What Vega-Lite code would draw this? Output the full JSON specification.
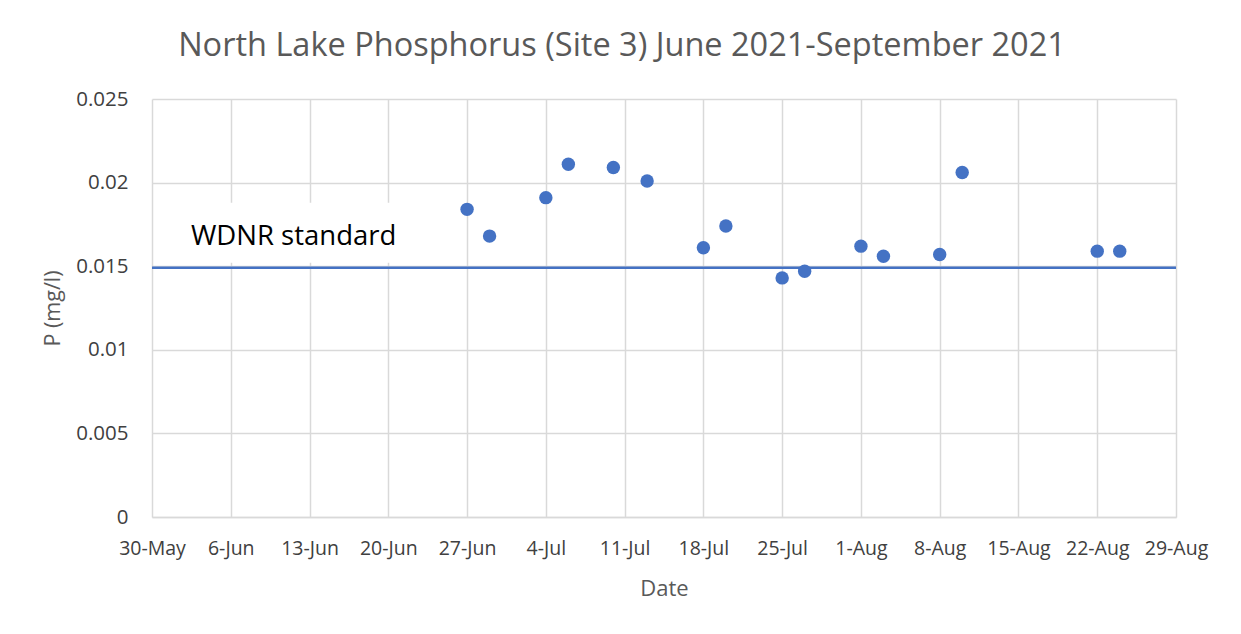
{
  "$schema": "https://vega.github.io/schema/vega-lite/v6.json",
  "autosize": "none",
  "width": 1024,
  "height": 418,
  "padding": {"left": 152, "top": 99, "right": 65, "bottom": 117},
  "background": "white",
  "title": {
    "text": "North Lake Phosphorus (Site 3) June 2021-September 2021",
    "font": "Open Sans",
    "fontSize": 32.5,
    "fontWeight": "normal",
    "color": "#595959",
    "anchor": "middle",
    "dx": -42,
    "offset": 27
  },
  "config": {
    "view": {"stroke": null},
    "font": "Open Sans"
  },
  "data": {
    "values": [
      {"date": "2021-06-27", "p": 0.0184},
      {"date": "2021-06-29", "p": 0.0168},
      {"date": "2021-07-04", "p": 0.0191},
      {"date": "2021-07-06", "p": 0.0211},
      {"date": "2021-07-10", "p": 0.0209},
      {"date": "2021-07-13", "p": 0.0201},
      {"date": "2021-07-18", "p": 0.0161},
      {"date": "2021-07-20", "p": 0.0174},
      {"date": "2021-07-25", "p": 0.0143},
      {"date": "2021-07-27", "p": 0.0147},
      {"date": "2021-08-01", "p": 0.0162},
      {"date": "2021-08-03", "p": 0.0156},
      {"date": "2021-08-08", "p": 0.0157},
      {"date": "2021-08-10", "p": 0.0206},
      {"date": "2021-08-22", "p": 0.0159},
      {"date": "2021-08-24", "p": 0.0159}
    ]
  },
  "layer": [
    {
      "mark": {"type": "point", "filled": true, "size": 180, "opacity": 0},
      "encoding": {
        "x": {
          "field": "date",
          "type": "temporal",
          "scale": {
            "type": "utc",
            "domain": [
              {"year": 2021, "month": 5, "date": 30, "utc": true},
              {"year": 2021, "month": 8, "date": 29, "utc": true}
            ],
            "nice": false
          },
          "axis": {
            "title": "Date",
            "titleFont": "Open Sans",
            "titleFontSize": 22,
            "titleFontWeight": "normal",
            "titleColor": "#595959",
            "titlePadding": 21,
            "values": [
              {"year": 2021, "month": 5, "date": 30, "utc": true},
              {"year": 2021, "month": 6, "date": 6, "utc": true},
              {"year": 2021, "month": 6, "date": 13, "utc": true},
              {"year": 2021, "month": 6, "date": 20, "utc": true},
              {"year": 2021, "month": 6, "date": 27, "utc": true},
              {"year": 2021, "month": 7, "date": 4, "utc": true},
              {"year": 2021, "month": 7, "date": 11, "utc": true},
              {"year": 2021, "month": 7, "date": 18, "utc": true},
              {"year": 2021, "month": 7, "date": 25, "utc": true},
              {"year": 2021, "month": 8, "date": 1, "utc": true},
              {"year": 2021, "month": 8, "date": 8, "utc": true},
              {"year": 2021, "month": 8, "date": 15, "utc": true},
              {"year": 2021, "month": 8, "date": 22, "utc": true},
              {"year": 2021, "month": 8, "date": 29, "utc": true}
            ],
            "labelExpr": "utcFormat(datum.value, '%-d-%b')",
            "labelFont": "Open Sans",
            "labelFontSize": 19.5,
            "labelColor": "#404040",
            "labelPadding": 22,
            "labelOverlap": false,
            "labelFlush": false,
            "ticks": false,
            "grid": true,
            "gridColor": "#d9d9d9",
            "gridWidth": 1.5,
            "domainColor": "#d9d9d9",
            "domainWidth": 1.5
          }
        },
        "y": {
          "field": "p",
          "type": "quantitative",
          "scale": {"domain": [0, 0.025], "nice": false},
          "axis": {
            "title": "P (mg/l)",
            "titleFont": "Open Sans",
            "titleFontSize": 21.5,
            "titleFontWeight": "normal",
            "titleColor": "#595959",
            "titlePadding": 11,
            "values": [0, 0.005, 0.01, 0.015, 0.02, 0.025],
            "labelExpr": "datum.value == 0 ? '0' : format(datum.value, '.3~f')",
            "labelFont": "Open Sans",
            "labelFontSize": 20.5,
            "labelColor": "#404040",
            "labelPadding": 24,
            "ticks": false,
            "domain": false,
            "grid": true,
            "gridColor": "#d9d9d9",
            "gridWidth": 1.5
          }
        }
      }
    },
    {
      "data": {"values": [{}]},
      "mark": {"type": "rect", "fill": "white"},
      "encoding": {
        "x": {"datum": {"year": 2021, "month": 5, "date": 30, "hours": 6, "utc": true}, "type": "temporal"},
        "x2": {"datum": {"year": 2021, "month": 6, "date": 23, "hours": 12, "utc": true}},
        "y": {"datum": 0.0152, "type": "quantitative"},
        "y2": {"datum": 0.0188}
      }
    },
    {
      "data": {"values": [{}]},
      "mark": {"type": "rule", "color": "#4472C4", "strokeWidth": 2.5},
      "encoding": {
        "y": {"datum": 0.0149, "type": "quantitative"}
      }
    },
    {
      "data": {"values": [{}]},
      "mark": {"type": "text", "text": "WDNR standard", "align": "left", "baseline": "alphabetic", "font": "Open Sans", "fontSize": 27.5, "fill": "#000000"},
      "encoding": {
        "x": {"datum": {"year": 2021, "month": 6, "date": 2, "hours": 11, "utc": true}, "type": "temporal"},
        "y": {"datum": 0.01627, "type": "quantitative"}
      }
    },
    {
      "mark": {"type": "point", "filled": true, "size": 180, "opacity": 1, "color": "#4472C4"},
      "encoding": {
        "x": {"field": "date", "type": "temporal"},
        "y": {"field": "p", "type": "quantitative"}
      }
    }
  ]
}
